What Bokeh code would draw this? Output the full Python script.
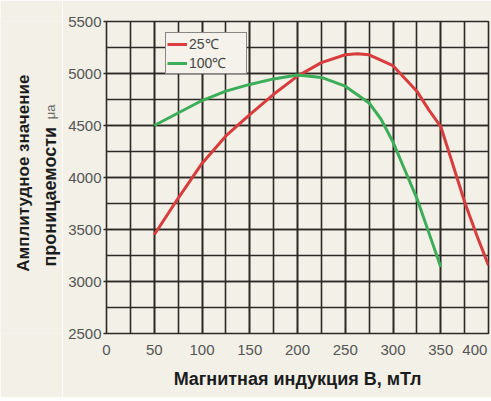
from bokeh.plotting import figure
from bokeh.layouts import row
from bokeh.models import FixedTicker, Label, Legend, LegendItem, Range1d
from bokeh.embed import file_html
from bokeh.resources import INLINE
import math

# ---- data ----
B_25 = [50, 75, 100, 125, 150, 175, 200, 225, 250, 262.5, 275, 300, 325, 337.5, 350, 362.5, 375, 387.5, 400]
mu_25 = [3450, 3800, 4135, 4400, 4605, 4800, 4975, 5105, 5180, 5190, 5180, 5075, 4830, 4650, 4490, 4130, 3765, 3450, 3155]

B_100 = [50, 75, 100, 125, 150, 175, 200, 225, 250, 275, 287.5, 300, 312.5, 325, 337.5, 350]
mu_100 = [4500, 4620, 4740, 4830, 4895, 4948, 4985, 4962, 4878, 4717, 4560, 4340, 4070, 3800, 3470, 3140]

x_ticks = [0, 50, 100, 150, 200, 250, 300, 350, 400]
x_grid = [0, 25, 50, 75, 100, 125, 150, 175, 200, 225, 250, 275, 300, 325, 350, 375, 400]
y_ticks = [2500, 3000, 3500, 4000, 4500, 5000, 5500]
y_grid = [2500, 2750, 3000, 3250, 3500, 3750, 4000, 4250, 4500, 4750, 5000, 5250, 5500]

series_names = ["25\u2103", "100\u2103"]
x_title = "Магнитная индукция B, мТл"
y_title_1 = "Амплитудное значение"
y_title_2 = "проницаемости"
y_unit = "\u03bca"

CREAM = "#f2f0e7"
GRID = "#2d2a25"
RED = "#d83c3c"
GREEN = "#3cad58"
H = 397
LEFT_W = 62

# ---- narrow panel that carries the rotated y-axis title ----
pt = figure(width=LEFT_W, height=H, output_backend="svg", toolbar_location=None,
            x_range=Range1d(0, LEFT_W), y_range=Range1d(H, 0),
            x_axis_location=None, y_axis_location=None,
            min_border_left=0, min_border_right=0, min_border_top=0, min_border_bottom=0)
pt.grid.visible = False
pt.outline_line_color = None
pt.border_fill_color = CREAM
pt.background_fill_color = CREAM
common = dict(angle=math.pi / 2, text_align="center", text_baseline="middle",
              text_font="Liberation Sans")
pt.add_layout(Label(x=23, y=193, text=y_title_1, text_font_style="bold",
                    text_font_size="17px", text_color="#1c1c1c", **common))
pt.add_layout(Label(x=49, y=223, text=y_title_2, text_font_style="bold",
                    text_font_size="18px", text_color="#1c1c1c", **common))
pt.add_layout(Label(x=50, y=115, text=y_unit, text_font_size="13px",
                    text_color="#6a6a6a", **common))

# ---- main chart ----
p = figure(width=491 - LEFT_W, height=H, output_backend="svg", toolbar_location=None,
           x_range=Range1d(0, 400), y_range=Range1d(2500, 5500),
           min_border_left=106 - LEFT_W, min_border_right=3, min_border_top=21,
           min_border_bottom=H - 333)
p.border_fill_color = CREAM
p.background_fill_color = CREAM
p.outline_line_color = GRID
p.outline_line_width = 1.6

p.xaxis.ticker = FixedTicker(ticks=x_ticks, minor_ticks=x_grid)
p.yaxis.ticker = FixedTicker(ticks=y_ticks, minor_ticks=y_grid)
for g in (p.xgrid, p.ygrid):
    g.grid_line_color = GRID
    g.grid_line_width = 1.6
    g.minor_grid_line_color = GRID
    g.minor_grid_line_width = 1.6

for ax in (p.xaxis, p.yaxis):
    ax.axis_line_color = None
    ax.minor_tick_line_color = None
    ax.major_label_text_font = "Liberation Sans"
    ax.major_label_text_color = "#555555"
    ax.major_label_text_font_size = "15px"

p.xaxis.major_tick_line_color = None
p.xaxis.major_label_standoff = 1
p.xaxis.major_label_overrides = {400: "400\u00a0"}
p.xaxis.axis_label = x_title
p.xaxis.axis_label_text_font = "Liberation Sans"
p.xaxis.axis_label_text_font_style = "bold"
p.xaxis.axis_label_text_font_size = "18px"
p.xaxis.axis_label_text_color = "#1c1c1c"
p.xaxis.axis_label_standoff = 8

p.yaxis.major_tick_line_color = GRID
p.yaxis.major_tick_line_width = 1.5
p.yaxis.major_tick_out = 3
p.yaxis.major_tick_in = 0
p.yaxis.major_label_standoff = 1

r25 = p.line(B_25, mu_25, line_color=RED, line_width=3)
r100 = p.line(B_100, mu_100, line_color=GREEN, line_width=3)

legend = Legend(items=[LegendItem(label=series_names[0], renderers=[r25]),
                       LegendItem(label=series_names[1], renderers=[r100])],
                location=(59, 259), orientation="vertical")
legend.background_fill_color = "#f4f2ea"
legend.background_fill_alpha = 1
legend.border_line_color = "#1c1c1c"
legend.border_line_width = 1.5
legend.label_text_font = "Liberation Sans"
legend.label_text_font_size = "14px"
legend.label_text_color = "#444444"
legend.glyph_width = 20
legend.glyph_height = 14
legend.label_height = 14
legend.label_width = 56
legend.label_standoff = 2
legend.padding = 1
legend.spacing = 0
legend.margin = 0
p.add_layout(legend, "center")

open("out.html", "w").write(file_html(row(pt, p, spacing=0), INLINE))
